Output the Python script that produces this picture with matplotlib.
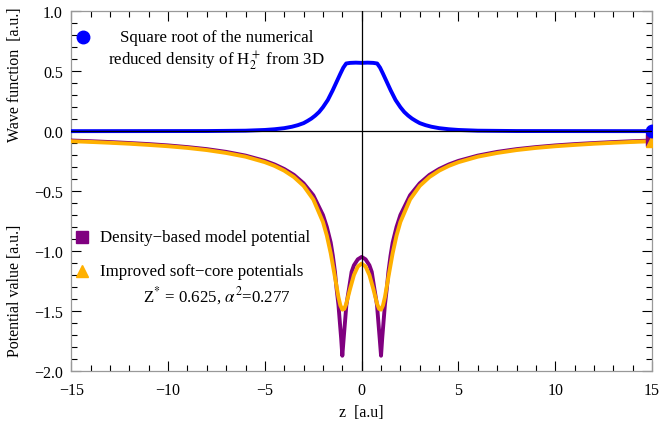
import matplotlib
matplotlib.use("Agg")
import matplotlib.pyplot as plt
import matplotlib.ticker as ticker

plt.rcParams['font.family'] = ['Liberation Serif', 'DejaVu Serif']
plt.rcParams['mathtext.fontset'] = 'stix'

# wave function (sqrt of reduced density)
z_wave = [-15, -8, -6, -5, -4.5, -4, -3.6, -3.3, -3.0, -2.8, -2.6, -2.4, -2.2, -2.0, -1.75, -1.5, -1.3, -1.1, -0.95,
          -0.8, -0.6, -0.3, 0,
          0.3, 0.6, 0.8, 0.95, 1.1, 1.3, 1.5, 1.75, 2.0, 2.2, 2.4, 2.6, 2.8, 3.0, 3.3, 3.6, 4, 4.5, 5, 6, 8, 15]
wave = [0.0, 0.001, 0.004, 0.01, 0.016, 0.025, 0.037, 0.05, 0.067, 0.085, 0.105, 0.13, 0.16, 0.20, 0.26, 0.34, 0.41,
        0.48, 0.53, 0.565, 0.57, 0.572, 0.57,
        0.572, 0.57, 0.565, 0.53, 0.48, 0.41, 0.34, 0.26, 0.20, 0.16, 0.13, 0.105, 0.085, 0.067, 0.05, 0.037, 0.025,
        0.016, 0.01, 0.004, 0.001, 0.0]

# density-based model potential
z_dens = [-15, -14, -13, -12, -11, -10, -9, -8, -7, -6, -5, -4.5, -4, -3.5, -3, -2.5, -2.0, -1.8, -1.6, -1.49, -1.38,
          -1.3, -1.2, -1.13, -1.06, -1.0, -0.93, -0.86, -0.79, -0.65, -0.52, -0.4, -0.2, 0,
          0.2, 0.4, 0.52, 0.65, 0.79, 0.86, 0.93, 1.0, 1.06, 1.13, 1.2, 1.3, 1.38, 1.49, 1.6, 1.8, 2.0,
          2.5, 3, 3.5, 4, 4.5, 5, 6, 7, 8, 9, 10, 11, 12, 13, 14, 15]
v_dens = [-0.078, -0.084, -0.091, -0.099, -0.108, -0.119, -0.133, -0.150, -0.173, -0.204, -0.248, -0.278, -0.316,
          -0.365, -0.435, -0.535, -0.70, -0.80, -0.93, -1.04, -1.175, -1.31, -1.45, -1.59, -1.73, -1.875, -1.73,
          -1.59, -1.45, -1.31, -1.175, -1.12, -1.07, -1.05,
          -1.07, -1.12, -1.175, -1.31, -1.45, -1.59, -1.73, -1.875, -1.73, -1.59, -1.45, -1.31, -1.175, -1.04,
          -0.93, -0.80, -0.70, -0.535, -0.435, -0.365, -0.316, -0.278, -0.248, -0.204, -0.173, -0.150, -0.133,
          -0.119, -0.108, -0.099, -0.091, -0.084, -0.078]

# improved soft-core potential
z_soft = [-15, -14, -13, -12, -11, -10, -9, -8, -7, -6, -5, -4.5, -4, -3.5, -3, -2.5, -2.0, -1.8, -1.6, -1.4, -1.2,
          -1.1, -1.0, -0.9, -0.8, -0.6, -0.4, -0.2, 0,
          0.2, 0.4, 0.6, 0.8, 0.9, 1.0, 1.1, 1.2, 1.4, 1.6, 1.8, 2.0, 2.5, 3, 3.5, 4, 4.5, 5, 6, 7, 8, 9, 10,
          11, 12, 13, 14, 15]
v_soft = [-0.084, -0.090, -0.097, -0.105, -0.115, -0.126, -0.140, -0.158, -0.182, -0.213, -0.259, -0.290, -0.330,
          -0.383, -0.457, -0.570, -0.758, -0.872, -1.019, -1.200, -1.386, -1.455, -1.490, -1.484, -1.443, -1.317,
          -1.201, -1.130, -1.106,
          -1.130, -1.201, -1.317, -1.443, -1.484, -1.490, -1.455, -1.386, -1.200, -1.019, -0.872, -0.758, -0.570,
          -0.457, -0.383, -0.330, -0.290, -0.259, -0.213, -0.182, -0.158, -0.140, -0.126, -0.115, -0.105, -0.097,
          -0.090, -0.084]

blue = '#0000FF'
purple = '#800080'
orange = '#FFB000'

fig = plt.figure(figsize=(6.6, 4.27), dpi=100)
ax = fig.add_axes([0.108, 0.1295, 0.880, 0.8415])

ax.plot(z_dens, v_dens, color=purple, lw=2.8, zorder=3)
ax.plot(z_soft, v_soft, color=orange, lw=2.8, zorder=4)
ax.plot(z_wave, wave, color=blue, lw=2.8, zorder=5)

# end markers (clipped at the frame)
ax.plot([15], [v_dens[-1]], 's', color=purple, ms=8, zorder=6)
ax.plot([15], [v_soft[-1]], '^', color=orange, ms=9, zorder=7)
ax.plot([15], [0], 'o', color=blue, ms=9, zorder=8)

ax.axhline(0, color='black', lw=0.9, zorder=9)
ax.axvline(0, color='black', lw=0.9, zorder=9)

ax.set_xlim(-15, 15)
ax.set_ylim(-2.0, 1.0)
ax.xaxis.set_major_locator(ticker.MultipleLocator(5))
ax.xaxis.set_minor_locator(ticker.MultipleLocator(1))
ax.yaxis.set_major_locator(ticker.MultipleLocator(0.5))
ax.yaxis.set_minor_locator(ticker.MultipleLocator(0.1))
ax.yaxis.set_major_formatter(ticker.FuncFormatter(lambda v, p: ('%.1f' % v).replace('-', '\u2212')))
ax.tick_params(which='both', direction='in', top=True, right=True, color='black', width=0.8, labelsize=11.5)
ax.tick_params(which='major', length=7)
ax.tick_params(which='minor', length=4)
ax.tick_params(axis='x', pad=8)
ax.tick_params(axis='y', pad=6)
for s in ax.spines.values():
    s.set_color('#999999')
    s.set_linewidth(0.9)

# legend entries drawn by hand
fs = 12.2
ax.plot([-14.4], [0.79], 'o', color=blue, ms=9, clip_on=False)
ax.text(-7.5, 0.79, 'Square root of the numerical', ha='center', va='center', fontsize=fs)
ax.text(-7.5, 0.59, r'reduced density of H$_2^+$ from 3D', ha='center', va='center', fontsize=fs)

ax.plot([-14.45], [-0.88], 's', color=purple, ms=8)
ax.text(-13.5, -0.88, 'Density\u2212based model potential', ha='left', va='center', fontsize=fs)
ax.plot([-14.45], [-1.165], '^', color=orange, ms=9)
ax.text(-13.5, -1.165, 'Improved soft\u2212core potentials', ha='left', va='center', fontsize=fs)
ax.text(-7.5, -1.37, r'Z$^{*}$ = 0.625, $\alpha^2$=0.277', ha='center', va='center', fontsize=fs)

fig.text(0.548, 0.033, 'z  [a.u]', ha='center', va='center', fontsize=11.5)
fig.text(0.022, 0.825, 'Wave function  [a.u.]', ha='center', va='center', rotation=90, fontsize=11.5)
fig.text(0.022, 0.32, 'Potential value [a.u.]', ha='center', va='center', rotation=90, fontsize=11.5)

fig.savefig('out.png', dpi=100)
